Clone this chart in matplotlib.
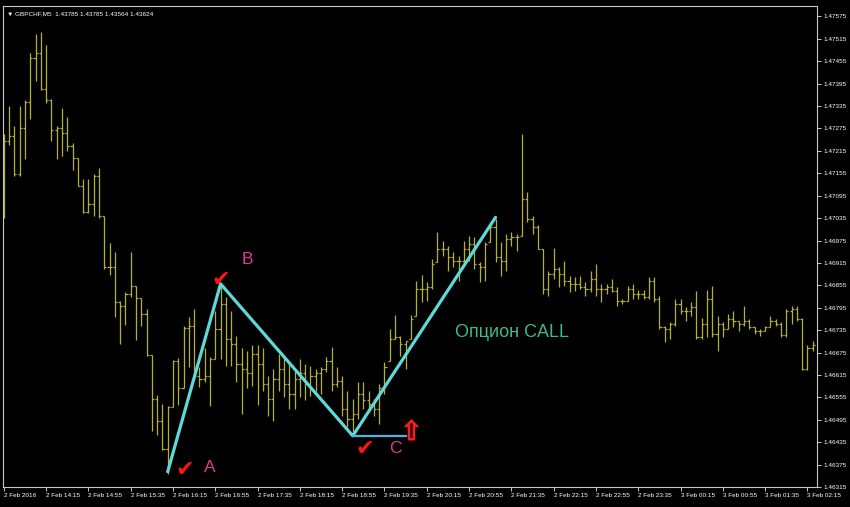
import numpy as np
import matplotlib
matplotlib.use("Agg")
import matplotlib.pyplot as plt
import matplotlib.patheffects as pe

# --- GBPCHF M5 bars ---
highs = [1.47259, 1.47336, 1.47281, 1.47336, 1.47350, 1.47477, 1.47528, 1.47533, 1.47498, 1.47354,
         1.47281, 1.47330, 1.47307, 1.47236, 1.47196, 1.47139, 1.47141, 1.47152, 1.47170, 1.47042,
         1.46969, 1.46943, 1.46814, 1.46836, 1.46944, 1.46854, 1.46822, 1.46791, 1.46669, 1.46561,
         1.46538, 1.46532, 1.46656, 1.46660, 1.46747, 1.46769, 1.46791, 1.46637, 1.46688, 1.46664,
         1.46786, 1.46859, 1.46824, 1.46786, 1.46720, 1.46686, 1.46680, 1.46694, 1.46696, 1.46686,
         1.46611, 1.46631, 1.46670, 1.46664, 1.46651, 1.46627, 1.46659, 1.46645, 1.46640, 1.46631,
         1.46637, 1.46664, 1.46691, 1.46637, 1.46613, 1.46573, 1.46551, 1.46597, 1.46597, 1.46571,
         1.46551, 1.46591, 1.46651, 1.46739, 1.46775, 1.46720, 1.46707, 1.46775, 1.46867, 1.46882,
         1.46864, 1.46926, 1.46997, 1.46974, 1.46960, 1.46944, 1.46934, 1.46974, 1.46986, 1.46984,
         1.46918, 1.46971, 1.47024, 1.47032, 1.46971, 1.46992, 1.46997, 1.46992, 1.47259, 1.47106,
         1.47040, 1.47016, 1.46952, 1.46894, 1.46955, 1.46904, 1.46920, 1.46880, 1.46878, 1.46880,
         1.46864, 1.46894, 1.46912, 1.46859, 1.46859, 1.46872, 1.46851, 1.46818, 1.46854, 1.46859,
         1.46843, 1.46843, 1.46878, 1.46878, 1.46827, 1.46746, 1.46758, 1.46818, 1.46818, 1.46798,
         1.46810, 1.46840, 1.46767, 1.46843, 1.46854, 1.46773, 1.46758, 1.46778, 1.46786, 1.46759,
         1.46800, 1.46765, 1.46744, 1.46739, 1.46746, 1.46773, 1.46765, 1.46758, 1.46791, 1.46800,
         1.46800, 1.46767, 1.46694, 1.46707]
lows = [1.47036, 1.47232, 1.47147, 1.47149, 1.47192, 1.47300, 1.47403, 1.47379, 1.47343, 1.47241,
        1.47192, 1.47201, 1.47214, 1.47165, 1.47121, 1.47048, 1.47048, 1.47042, 1.47036, 1.46900,
        1.46882, 1.46769, 1.46698, 1.46749, 1.46825, 1.46709, 1.46745, 1.46667, 1.46466, 1.46453,
        1.46413, 1.46351, 1.46529, 1.46535, 1.46579, 1.46636, 1.46604, 1.46583, 1.46597, 1.46533,
        1.46659, 1.46659, 1.46640, 1.46640, 1.46597, 1.46511, 1.46579, 1.46586, 1.46535, 1.46573,
        1.46506, 1.46492, 1.46571, 1.46557, 1.46524, 1.46524, 1.46557, 1.46547, 1.46559, 1.46571,
        1.46565, 1.46624, 1.46571, 1.46583, 1.46506, 1.46476, 1.46452, 1.46498, 1.46524, 1.46516,
        1.46506, 1.46484, 1.46565, 1.46653, 1.46711, 1.46667, 1.46631, 1.46711, 1.46773, 1.46810,
        1.46813, 1.46846, 1.46918, 1.46934, 1.46894, 1.46904, 1.46867, 1.46907, 1.46920, 1.46899,
        1.46864, 1.46867, 1.46971, 1.46918, 1.46880, 1.46894, 1.46960, 1.46947, 1.46986, 1.47024,
        1.46992, 1.46952, 1.46832, 1.46827, 1.46872, 1.46851, 1.46854, 1.46838, 1.46840, 1.46846,
        1.46827, 1.46838, 1.46827, 1.46810, 1.46832, 1.46838, 1.46800, 1.46806, 1.46813, 1.46818,
        1.46818, 1.46818, 1.46818, 1.46810, 1.46739, 1.46704, 1.46711, 1.46746, 1.46778, 1.46759,
        1.46773, 1.46711, 1.46711, 1.46718, 1.46718, 1.46678, 1.46718, 1.46739, 1.46744, 1.46734,
        1.46746, 1.46739, 1.46726, 1.46720, 1.46734, 1.46744, 1.46746, 1.46718, 1.46718, 1.46751,
        1.46759, 1.46627, 1.46627, 1.46678]
opens = [1.47067, 1.47241, 1.47254, 1.47152, 1.47276, 1.47347, 1.47463, 1.47477, 1.47381, 1.47352,
         1.47272, 1.47276, 1.47263, 1.47227, 1.47196, 1.47122, 1.47051, 1.47072, 1.47147, 1.47040,
         1.46903, 1.46905, 1.46811, 1.46800, 1.46831, 1.46854, 1.46820, 1.46778, 1.46669, 1.46551,
         1.46493, 1.46418, 1.46529, 1.46653, 1.46580, 1.46742, 1.46747, 1.46613, 1.46604, 1.46611,
         1.46659, 1.46739, 1.46806, 1.46711, 1.46699, 1.46645, 1.46631, 1.46619, 1.46672, 1.46645,
         1.46591, 1.46551, 1.46604, 1.46631, 1.46591, 1.46565, 1.46604, 1.46619, 1.46591, 1.46611,
         1.46619, 1.46631, 1.46653, 1.46591, 1.46599, 1.46524, 1.46498, 1.46511, 1.46565, 1.46547,
         1.46538, 1.46524, 1.46579, 1.46653, 1.46711, 1.46718, 1.46699, 1.46711, 1.46773, 1.46846,
         1.46846, 1.46851, 1.46918, 1.46952, 1.46952, 1.46931, 1.46920, 1.46920, 1.46952, 1.46966,
         1.46912, 1.46904, 1.46971, 1.47010, 1.46931, 1.46920, 1.46978, 1.46984, 1.46986, 1.47085,
         1.47032, 1.47010, 1.46952, 1.46846, 1.46886, 1.46899, 1.46886, 1.46867, 1.46859, 1.46859,
         1.46851, 1.46846, 1.46872, 1.46846, 1.46846, 1.46851, 1.46840, 1.46813, 1.46813, 1.46846,
         1.46832, 1.46832, 1.46824, 1.46867, 1.46818, 1.46744, 1.46739, 1.46751, 1.46806, 1.46786,
         1.46786, 1.46798, 1.46718, 1.46751, 1.46818, 1.46726, 1.46751, 1.46739, 1.46765, 1.46759,
         1.46751, 1.46759, 1.46744, 1.46734, 1.46734, 1.46744, 1.46759, 1.46751, 1.46723, 1.46786,
         1.46791, 1.46765, 1.46631, 1.46686]
closes = [1.47241, 1.47254, 1.47152, 1.47276, 1.47347, 1.47463, 1.47477, 1.47381, 1.47352, 1.47272,
          1.47276, 1.47263, 1.47227, 1.47196, 1.47122, 1.47051, 1.47072, 1.47147, 1.47040, 1.46903,
          1.46905, 1.46811, 1.46800, 1.46831, 1.46854, 1.46820, 1.46778, 1.46669, 1.46551, 1.46493,
          1.46418, 1.46529, 1.46653, 1.46580, 1.46742, 1.46747, 1.46613, 1.46604, 1.46611, 1.46659,
          1.46739, 1.46806, 1.46711, 1.46699, 1.46645, 1.46631, 1.46619, 1.46672, 1.46645, 1.46591,
          1.46551, 1.46604, 1.46631, 1.46591, 1.46565, 1.46604, 1.46619, 1.46591, 1.46611, 1.46619,
          1.46631, 1.46653, 1.46591, 1.46599, 1.46524, 1.46498, 1.46511, 1.46565, 1.46547, 1.46538,
          1.46524, 1.46579, 1.46637, 1.46711, 1.46718, 1.46699, 1.46707, 1.46765, 1.46846, 1.46846,
          1.46851, 1.46912, 1.46952, 1.46952, 1.46931, 1.46920, 1.46920, 1.46952, 1.46966, 1.46912,
          1.46904, 1.46966, 1.47010, 1.46931, 1.46920, 1.46978, 1.46984, 1.46984, 1.47085, 1.47032,
          1.47010, 1.46952, 1.46846, 1.46886, 1.46899, 1.46886, 1.46867, 1.46859, 1.46859, 1.46851,
          1.46846, 1.46872, 1.46846, 1.46846, 1.46851, 1.46840, 1.46813, 1.46813, 1.46846, 1.46832,
          1.46832, 1.46824, 1.46867, 1.46818, 1.46744, 1.46739, 1.46751, 1.46806, 1.46786, 1.46786,
          1.46798, 1.46718, 1.46751, 1.46818, 1.46726, 1.46751, 1.46739, 1.46765, 1.46759, 1.46751,
          1.46759, 1.46744, 1.46734, 1.46734, 1.46744, 1.46759, 1.46751, 1.46723, 1.46786, 1.46791,
          1.46765, 1.46631, 1.46686, 1.46694]

time_labels = ["2 Feb 2016", "2 Feb 14:15", "2 Feb 14:55", "2 Feb 15:35", "2 Feb 16:15",
               "2 Feb 16:55", "2 Feb 17:35", "2 Feb 18:15", "2 Feb 18:55", "2 Feb 19:35",
               "2 Feb 20:15", "2 Feb 20:55", "2 Feb 21:35", "2 Feb 22:15", "2 Feb 22:55",
               "2 Feb 23:35", "3 Feb 00:15", "3 Feb 00:55", "3 Feb 01:35", "3 Feb 02:15"]
bars_per_label = 8

# ABC zigzag (bar index, price)
zz_bars = [31, 41, 66, 93]
zz_prices = [1.46356, 1.46859, 1.46452, 1.47037]
c_level_end = 76.1

title = "\u25bc GBPCHF,M5  1.43785 1.43785 1.43564 1.43624"

# --- plotting ---
BAR_COL = "#b3b03a"
fig = plt.figure(figsize=(8.5, 5.07), dpi=100, facecolor="black")
ax = fig.add_axes([3 / 850, 20 / 507, 814 / 850, 481 / 507], facecolor="black")

x = np.arange(len(highs))
ax.vlines(x, lows, highs, color=BAR_COL, lw=0.9)
ax.hlines(opens, x - 0.4, x, color=BAR_COL, lw=0.9)
ax.hlines(closes, x, x + 0.4, color=BAR_COL, lw=0.9)

# zigzag
ax.plot(zz_bars, zz_prices, color="#5fd8d8", lw=2.3, solid_capstyle="round", zorder=5)
ax.plot([zz_bars[2], c_level_end], [zz_prices[2], zz_prices[2]], color="#4cb4e4", lw=1.6, zorder=5)

# marks and labels
sym = ["DejaVu Sans"]
for bx, py in [(34.2, 1.46360), (41.1, 1.46869), (68.2, 1.46416)]:
    ax.text(bx, py, "\u2714", color="#ff1414", fontsize=16, family=sym,
            ha="center", va="center", zorder=6)
lbl_font = ["Liberation Sans", "DejaVu Sans"]
for t, bx, py in [("A", 39.0, 1.46368), ("B", 46.1, 1.46925), ("C", 74.1, 1.46418)]:
    ax.text(bx, py, t, color="#e0389a", fontsize=12.5, family=lbl_font,
            ha="center", va="center", zorder=6)
ax.text(77.1, 1.46460, "\u21e7", color="#ff1a1a", fontsize=19, family=sym,
        ha="center", va="center", zorder=6,
        path_effects=[pe.withStroke(linewidth=0.9, foreground="#ff1a1a")])
ax.text(85.3, 1.46730, "Опцион CALL", color="#3dbb8c", fontsize=13, family=lbl_font,
        ha="left", va="center")

ax.text(0.005, 0.988, title, transform=ax.transAxes, color="white", fontsize=4.6,
        family=lbl_font, ha="left", va="top")

# axes
ax.set_xlim(-0.15, 153.8)
ax.set_ylim(1.46315, 1.47603)
yt = np.arange(1.46315, 1.47600, 0.0006)
ax.set_yticks(yt)
ax.set_yticklabels([f"{v:.5f}" for v in yt])
ax.yaxis.tick_right()
ax.set_xticks(np.arange(len(time_labels)) * bars_per_label)
ax.set_xticklabels(time_labels, ha="left")
ax.tick_params(axis="both", colors="#c8c8c8", labelcolor="white", labelsize=4.6,
               length=3, width=0.7, pad=1.5)
for lab in ax.get_xticklabels() + ax.get_yticklabels():
    lab.set_family("Liberation Sans")
for s in ax.spines.values():
    s.set_color("#c8c8c8")
    s.set_linewidth(0.8)

fig.savefig("out.png", dpi=100, facecolor="black")
plt.close(fig)
